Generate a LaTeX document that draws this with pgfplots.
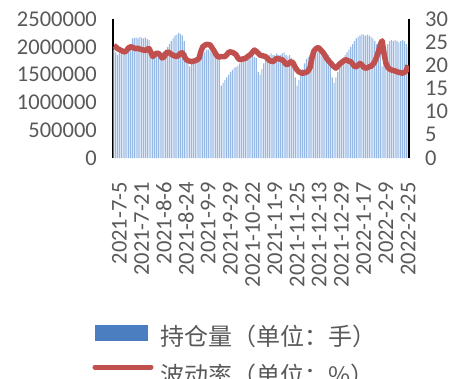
\documentclass[border=0pt]{standalone}
\usepackage{fontspec}
\setmainfont{Carlito}
\newfontfamily\cjk{Noto Sans CJK SC}
\usepackage{pgfplots}
\usepackage{pgfplotstable}
\pgfplotsset{compat=1.18}

\definecolor{barblue}{RGB}{150,184,228}
\definecolor{legblue}{RGB}{74,126,193}
\definecolor{volred}{RGB}{192,80,77}
\definecolor{txtgray}{RGB}{89,89,89}

% trading days 2021-6-30 ... 2022-2-25: open interest (lots) and volatility (%)
\pgfplotstableread{
idx oi vol
0 1950000 24.2
1 1900000 24.0
2 1850000 23.6
3 1900000 23.4
4 1950000 23.2
5 1900000 23.0
6 1920000 22.9
7 1950000 23.3
8 2000000 23.8
9 2050000 24.0
10 2150000 23.9
11 2160000 23.7
12 2170000 23.6
13 2150000 23.7
14 2180000 23.5
15 2160000 23.4
16 2150000 23.3
17 2170000 23.2
18 2140000 23.5
19 2120000 23.6
20 1950000 22.8
21 1900000 21.9
22 1880000 22.3
23 1900000 22.6
24 1920000 22.6
25 1880000 22.2
26 1900000 21.6
27 1920000 21.8
28 1950000 22.5
29 2000000 22.9
30 2050000 22.7
31 2100000 22.4
32 2150000 22.2
33 2200000 22.0
34 2220000 21.9
35 2250000 22.2
36 2230000 22.6
37 2200000 22.7
38 2100000 22.0
39 1900000 21.3
40 1700000 21.0
41 1650000 20.9
42 1700000 20.8
43 1750000 20.9
44 1780000 21.0
45 1800000 21.2
46 1830000 21.5
47 1850000 23.0
48 1880000 24.0
49 1900000 24.3
50 1950000 24.5
51 1950000 24.5
52 1920000 24.4
53 1900000 23.8
54 1920000 23.2
55 1900000 22.5
56 1850000 21.9
57 1800000 21.8
58 1300000 21.9
59 1350000 21.9
60 1400000 21.9
61 1450000 22.3
62 1500000 22.8
63 1550000 22.9
64 1580000 22.8
65 1620000 22.6
66 1640000 22.3
67 1660000 21.6
68 1700000 21.2
69 1720000 21.3
70 1740000 21.4
71 1760000 21.5
72 1800000 21.8
73 1800000 22.1
74 1820000 22.4
75 1850000 22.9
76 1820000 23.3
77 1800000 23.0
78 1550000 22.6
79 1500000 22.2
80 1600000 22.1
81 1700000 22.0
82 1780000 21.9
83 1820000 21.5
84 1850000 21.1
85 1880000 20.9
86 1850000 20.8
87 1850000 21.2
88 1880000 21.5
89 1850000 21.4
90 1850000 21.3
91 1880000 21.2
92 1900000 20.8
93 1850000 20.2
94 1830000 20.2
95 1850000 20.6
96 1800000 20.8
97 1750000 20.4
98 1450000 19.6
99 1300000 19.0
100 1400000 18.6
101 1500000 18.4
102 1600000 18.3
103 1700000 18.4
104 1780000 18.5
105 1820000 18.8
106 1850000 19.5
107 1880000 21.5
108 1900000 23.0
109 1920000 23.5
110 1900000 23.8
111 1950000 23.7
112 1920000 23.2
113 1900000 22.8
114 1900000 22.2
115 1880000 21.5
116 1850000 21.0
117 1800000 20.6
118 1450000 20.1
119 1350000 19.7
120 1450000 19.4
121 1550000 19.8
122 1650000 20.3
123 1720000 20.6
124 1800000 20.9
125 1850000 21.2
126 1900000 21.1
127 1950000 20.9
128 2000000 20.8
129 2050000 20.3
130 2100000 19.8
131 2150000 19.7
132 2180000 20.0
133 2200000 20.4
134 2230000 20.1
135 2220000 19.6
136 2200000 19.4
137 2220000 19.5
138 2200000 19.7
139 2180000 19.8
140 2150000 20.2
141 2100000 20.8
142 2050000 21.8
143 2000000 23.0
144 2050000 24.5
145 1650000 25.3
146 1750000 22.5
147 1950000 20.5
148 2050000 19.6
149 2100000 19.2
150 2120000 19.0
151 2100000 18.9
152 2120000 18.8
153 2100000 18.6
154 2080000 18.5
155 2100000 18.4
156 2120000 18.3
157 2100000 18.5
158 2050000 18.8
159 2000000 20.0
}\datatable

\pgfplotsset{
  base/.style={
    scale only axis, width=296pt, height=139pt,
    at={(0pt,0pt)}, anchor=south west,
    xmin=-0.5, xmax=159.5,
    major tick length=0pt,
    scaled y ticks=false,
    ticklabel style={text=txtgray, font=\fontsize{22.5}{24}\selectfont, inner sep=0pt},
    axis line style={line width=1.3pt, black},
  }
}

\begin{document}
\begin{tikzpicture}
\useasboundingbox (-113pt,-220pt) rectangle (337pt,158pt);

% open interest, left axis
\begin{axis}[base,
  axis y line*=left, axis x line*=bottom,
  x axis line style={draw=none},
  ymin=0, ymax=2500000,
  ytick={0,500000,1000000,1500000,2000000,2500000},
  yticklabels={0,500000,1000000,1500000,2000000,2500000},
  yticklabel style={anchor=east, xshift=-16pt},
  xtick={3,15,27,39,51,63,75,87,99,111,123,135,147,159},
  xticklabels={2021-7-5,2021-7-21,2021-8-6,2021-8-24,2021-9-9,2021-9-29,2021-10-22,2021-11-9,2021-11-25,2021-12-13,2021-12-29,2022-1-17,2022-2-9,2022-2-25},
  xticklabel style={rotate=90, anchor=east, xshift=-24pt},
  legend style={at={(axis description cs:-0.07,-1.20)}, anchor=north west,
    draw=none, fill=none, inner sep=0pt,
    font=\cjk\fontsize{24}{28}\selectfont, text=txtgray,
    row sep=17pt,
    nodes={inner sep=0pt},
    /tikz/every odd column/.append style={column sep=7pt}},
  legend cell align=left,
]
\addplot[ybar, bar width=0.6, fill=barblue, draw=none,
  legend image code/.code={\fill[legblue] (0pt,-5pt) rectangle (53pt,11pt);}]
  table[x=idx, y=oi] {\datatable};
\addlegendentry{持仓量（单位：手）}
\addlegendimage{legend image code/.code={\draw[volred, line width=5pt, line cap=round] (0pt,8pt) -- (56pt,8pt);}}
\addlegendentry{波动率（单位：\%）}
\end{axis}

% volatility, right axis
\begin{axis}[base,
  axis y line*=right, axis x line=none,
  ymin=0, ymax=30,
  ytick={0,5,10,15,20,25,30},
  yticklabels={0,5,10,15,20,25,30},
  yticklabel style={anchor=west, xshift=16pt},
]
\addplot[volred, line width=5.5pt, line join=round, no markers]
  table[x=idx, y=vol] {\datatable};
\end{axis}
\end{tikzpicture}
\end{document}
